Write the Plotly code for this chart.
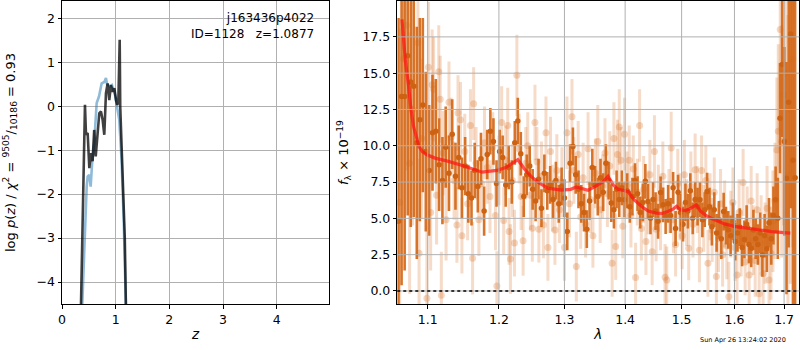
import plotly.graph_objects as go

# ---------------- left panel: p(z) ----------------
z_pz = [0.330, 0.354, 0.428, 0.447, 0.478, 0.509, 0.540, 0.570, 0.600, 0.628,
        0.695, 0.726, 0.757, 0.788, 0.819, 0.850, 0.881, 0.912, 0.944, 0.975,
        1.006, 1.030, 1.050, 1.075, 1.085, 1.110, 1.140, 1.170, 1.190, 1.215]
logp_pz = [-7.0, -4.5, 0.03, -0.65, -0.61, -1.41, -1.07, -1.25, -0.54, -1.14,
           -0.16, -0.12, -0.31, -0.65, 0.30, 0.52, 0.14, 0.48, 0.33, 0.41,
           0.14, 0.03, 0.10, 1.51, 0.00, -0.80, -1.60, -3.00, -4.50, -6.50]

z_chi = [0.340, 0.378, 0.460, 0.478, 0.509, 0.534, 0.565, 0.600, 0.646, 0.689,
         0.739, 0.790, 0.819, 0.840, 0.890, 0.930, 0.987, 1.030, 1.067, 1.110,
         1.150, 1.190, 1.220]
logp_chi = [-7.0, -4.5, -1.83, -1.60, -1.56, -1.83, -1.22, -0.84, 0.07, 0.22,
            0.52, 0.55, 0.64, 0.50, 0.45, 0.48, 0.26, -0.01, -0.31, -1.22,
            -2.60, -4.50, -6.50]

z_ticks = [0, 1, 2, 3, 4]
logp_ticks = [-4, -3, -2, -1, 0, 1, 2]

# ---------------- right panel: spectrum ----------------
dark_wave = [
    1.0615, 1.0655, 1.0695, 1.0735, 1.0775, 1.0815, 1.0855, 1.0895, 1.0935, 1.0975,
    1.1020, 1.1065, 1.1110, 1.1155, 1.1200, 1.1245, 1.1290, 1.1335, 1.1380, 1.1425, 1.1470,
    1.1515, 1.1560, 1.1605, 1.1650, 1.1695, 1.1740, 1.1785, 1.1830, 1.1875, 1.1920, 1.1965,
    1.2010, 1.2055, 1.2100, 1.2145, 1.2190, 1.2235, 1.2280, 1.2325, 1.2370, 1.2415, 1.2460,
    1.2505, 1.2550, 1.2595, 1.2640, 1.2685, 1.2730, 1.2775, 1.2820, 1.2865, 1.2910, 1.2955,
    1.3000, 1.3045, 1.3090, 1.3135, 1.3180, 1.3225, 1.3270, 1.3315, 1.3360, 1.3405, 1.3450,
    1.3495, 1.3540, 1.3585, 1.3630, 1.3675, 1.3720, 1.3765, 1.3810, 1.3855, 1.3900, 1.3945, 1.3990,
    1.4035, 1.4080, 1.4125, 1.4170, 1.4215, 1.4260, 1.4305, 1.4350, 1.4395, 1.4440, 1.4485,
    1.4530, 1.4575, 1.4620, 1.4665, 1.4710, 1.4755, 1.4800, 1.4845, 1.4890, 1.4935, 1.4980,
    1.5025, 1.5070, 1.5115, 1.5160, 1.5205, 1.5250, 1.5295, 1.5340, 1.5385, 1.5430, 1.5475,
    1.5520, 1.5565, 1.5610, 1.5655, 1.5700, 1.5745, 1.5790, 1.5835, 1.5880, 1.5925, 1.5970,
    1.6015, 1.6060, 1.6105, 1.6150, 1.6195, 1.6240, 1.6285, 1.6330, 1.6375, 1.6420, 1.6465,
    1.6510, 1.6555, 1.6600, 1.6645, 1.6690, 1.6735, 1.6780, 1.6825, 1.6870, 1.6915, 1.6960,
    1.7005, 1.7050, 1.7095, 1.7140, 1.7185, 1.7230]
dark_flux = [
    4.8, 13.4, 13.4, 16.2, 14.4, 14.1, 10.2, 11.8, 12.8, 9.6,
    8.3, 10.9, 11.0, 8.7, 7.6, 9.9, 8.1, 10.8, 7.9, 9.2, 7.1,
    8.6, 6.7, 6.4, 8.3, 7.2, 9.1, 5.5, 9.4, 11.0, 10.3, 7.4,
    9.6, 9.2, 7.3, 8.5, 7.5, 10.2, 11.7, 9.45, 6.5, 8.0, 8.6,
    7.0, 6.2, 7.7, 5.7, 8.1, 6.9, 7.3, 6.3, 7.6, 6.0, 7.2,
    6.4, 4.1, 8.8, 9.95, 8.0, 7.0, 6.0, 5.4, 4.25, 6.2, 8.5,
    7.3, 6.5, 7.8, 6.8, 8.8, 7.6, 6.05, 5.6, 7.0, 6.3, 7.1, 6.28,
    6.9, 5.8, 6.5, 7.6, 6.7, 5.4, 6.1, 7.55, 6.16, 5.0, 6.3,
    5.5, 4.8, 6.78, 5.93, 5.13, 6.0, 5.2, 7.1, 4.3, 6.8, 5.4,
    4.6, 6.1, 5.5, 6.9, 5.0, 6.3, 5.8, 6.28, 4.9, 5.6, 6.85,
    5.8, 4.43, 5.6, 4.0, 4.9, 3.6, 5.47, 4.5, 4.2, 3.8, 4.8,
    3.4, 4.0, 4.4, 3.0, 3.55, 4.6, 3.2, 2.94, 4.2, 3.6, 3.2,
    4.0, 2.48, 3.8, 2.9, 4.7, 3.6, 5.2, 6.28, 5.0, 11.9, 15.6,
    10.3, 7.77, 13.0, 17.7, 9.0, 7.8]
dark_err = [
    14, 13, 12, 11, 10, 9, 8, 7, 6, 5.5,
    4.5, 4.0, 3.6, 3.2, 3.0, 2.8, 2.6, 2.4, 2.3, 2.2, 2.1,
    2.0, 2.0, 1.9, 1.9, 1.8, 1.8, 1.7, 1.7, 1.6, 1.6, 1.6,
    1.5, 1.5, 1.5, 1.5, 1.5, 1.5, 1.6, 1.5, 1.4, 1.4, 1.4,
    1.4, 1.4, 1.4, 1.3, 1.3, 1.3, 1.3, 1.3, 1.3, 1.3, 1.3,
    1.3, 1.3, 1.3, 1.3, 1.3, 1.3, 1.3, 1.3, 1.3, 1.3, 1.3,
    1.3, 1.3, 1.3, 1.3, 1.3, 1.3, 1.3, 1.3, 1.3, 1.2, 1.2, 1.2,
    1.2, 1.1, 1.3, 1.2, 1.2, 1.1, 1.3, 1.2, 1.2, 1.1, 1.2,
    1.3, 1.2, 1.1, 1.2, 1.2, 1.3, 1.2, 1.1, 1.2, 1.2, 1.3,
    1.2, 1.3, 1.2, 1.2, 1.1, 1.2, 1.3, 1.2, 1.2, 1.2, 1.3,
    1.3, 1.3, 1.2, 1.3, 1.3, 1.4, 1.3, 1.3, 1.3, 1.4, 1.3,
    1.3, 1.3, 1.3, 1.3, 1.3, 1.3, 1.3, 1.3, 1.4, 1.4, 1.4,
    1.4, 1.5, 1.5, 1.6, 1.7, 1.8, 2.0, 2.3, 2.8, 3.8, 5.0,
    6.5, 8.0, 10, 12, 13, 14]

light_wave = [
    1.0630, 1.0680, 1.0720, 1.0760, 1.0800, 1.0870, 1.0885, 1.0920, 1.0990, 1.1010,
    1.1040, 1.1060, 1.1080, 1.1120, 1.1150, 1.1170, 1.1185, 1.1210, 1.1250, 1.1290,
    1.1320, 1.1360, 1.1400, 1.1415, 1.1450, 1.1470, 1.1510, 1.1550, 1.1590, 1.1620,
    1.1635, 1.1670, 1.1710, 1.1750, 1.1790, 1.1830, 1.1870, 1.1910, 1.1950, 1.1970,
    1.2000, 1.2040, 1.2070, 1.2100, 1.2130, 1.2150, 1.2170, 1.2200, 1.2230, 1.2266,
    1.2300, 1.2330, 1.2360, 1.2400, 1.2430, 1.2470, 1.2500, 1.2540, 1.2570, 1.2600,
    1.2640, 1.2670, 1.2710, 1.2740, 1.2780, 1.2810, 1.2850, 1.2880, 1.2920, 1.2960,
    1.3000, 1.3040, 1.3080, 1.3120, 1.3150, 1.3190, 1.3220, 1.3260, 1.3300, 1.3340,
    1.3380, 1.3420, 1.3460, 1.3500, 1.3540, 1.3580, 1.3620, 1.3660, 1.3700, 1.3740,
    1.3780, 1.3810, 1.3840, 1.3870, 1.3900, 1.3930, 1.3960, 1.3990,
    1.4030, 1.4070, 1.4100, 1.4140, 1.4180, 1.4210, 1.4250, 1.4280, 1.4320, 1.4360,
    1.4400, 1.4430, 1.4470, 1.4510, 1.4540, 1.4580, 1.4620, 1.4660, 1.4700, 1.4730,
    1.4770, 1.4810, 1.4850, 1.4890, 1.4930, 1.4970,
    1.5010, 1.5050, 1.5090, 1.5130, 1.5170, 1.5210, 1.5250, 1.5290, 1.5330, 1.5370,
    1.5410, 1.5450, 1.5490, 1.5530, 1.5570, 1.5610, 1.5650, 1.5690, 1.5730, 1.5770,
    1.5810, 1.5850, 1.5890, 1.5930, 1.5970,
    1.6010, 1.6050, 1.6090, 1.6130, 1.6170, 1.6210, 1.6250, 1.6290, 1.6330, 1.6370,
    1.6410, 1.6450, 1.6490, 1.6530, 1.6570, 1.6610, 1.6650, 1.6690, 1.6730, 1.6770,
    1.6810, 1.6850, 1.6880, 1.6920, 1.6950, 1.6990, 1.7030, 1.7080, 1.7130, 1.7180]
light_flux = [
    6.1, 16.0, 18.3, 8.8, 12.5, 17.1, 2.6, 10.5, -0.5, 15.4,
    5.4, 14.2, 13.9, 6.6, 15.1, 13.2, -0.3, 9.5, 4.9, 13.0,
    10.6, 7.6, 4.55, 12.25, 11.8, 3.8, 9.6, 6.0, 11.4, 2.25,
    12.9, 8.8, 4.9, 7.4, 10.2, 8.5, 6.5, 9.9, 5.2, 0.34,
    8.3, 11.6, 4.85, 9.0, 11.4, 4.1, 2.2, 7.6, 3.3, 14.85,
    9.8, 6.5, 3.45, 8.8, 10.0, 6.6, 4.32, 11.6, 8.9, 4.25,
    7.9, 4.55, 10.9, 3.0, 9.6, 6.4, 4.2, 8.3, 5.6, 7.5,
    3.0, 10.9, 6.0, 12.0, 8.3, 1.68, 9.4, 5.1, 7.8, 4.6,
    9.8, 6.3, 3.8, 8.1, 10.3, 5.6, 7.2, 9.5, 6.7, 8.6,
    1.9, 10.5, 3.06, 9.4, 11.3, 9.0, 4.45, 10.8,
    7.3, 9.0, 5.2, 8.4, 0.92, 6.8, 11.4, 4.3, 7.0, 3.4,
    6.1, 8.0, 2.7, 9.6, 4.25, 6.4, 5.0, 7.9, 0.94, 0.76,
    6.2, 9.85, 4.9, 3.2, 7.4, 5.8,
    3.8, 8.0, 5.4, 2.94, 7.2, 4.6, 8.35, 6.3, 2.8, 8.3,
    5.0, 7.6, 1.9, 5.8, 4.2, 6.8, 0.99, 3.6, 6.0, 2.5,
    5.3, 3.1, -0.4, 4.6, 6.1,
    3.0, 1.1, 5.4, 3.3, 7.47, 2.0, 4.8, 1.1, 6.2, 3.5,
    2.1, 5.6, -0.2, 4.0, 1.2, 3.3, 5.7, 0.76, 2.6, 4.8,
    6.2, 9.7, 11.0, 18.0, 10.3, 13.5, 15.0, 8.0, 12.5, 16.0]
light_err = [
    12, 11, 10, 9, 8, 7, 6.5, 5.5, 5, 4.5,
    4, 3.8, 3.6, 3.4, 3.2, 3.0, 3.0, 2.9, 2.8, 2.8,
    2.7, 2.7, 2.6, 2.6, 2.6, 2.6, 2.6, 2.5, 2.5, 2.5,
    2.5, 2.5, 2.5, 2.5, 2.5, 2.5, 2.5, 2.4, 2.4, 2.4,
    2.4, 2.5, 2.3, 2.4, 2.6, 2.3, 2.4, 2.5, 2.3, 2.8,
    2.4, 2.3, 2.4, 2.5, 2.3, 2.4, 2.3, 2.6, 2.4, 2.3,
    2.4, 2.3, 2.5, 2.3, 2.4, 2.3, 2.4, 2.5, 2.3, 2.4,
    2.3, 2.5, 2.3, 2.6, 2.3, 2.4, 2.3, 2.2, 2.4, 2.3,
    2.5, 2.3, 2.2, 2.4, 2.5, 2.3, 2.2, 2.4, 2.3, 2.4,
    2.3, 2.5, 2.3, 2.4, 2.6, 2.3, 2.2, 2.5,
    2.3, 2.4, 2.2, 2.3, 2.4, 2.3, 2.5, 2.2, 2.3, 2.3,
    2.2, 2.4, 2.3, 2.5, 2.2, 2.3, 2.2, 2.4, 2.3, 2.3,
    2.2, 2.5, 2.3, 2.2, 2.4, 2.3,
    2.3, 2.4, 2.3, 2.2, 2.4, 2.3, 2.5, 2.3, 2.2, 2.4,
    2.3, 2.4, 2.3, 2.3, 2.2, 2.4, 2.3, 2.3, 2.4, 2.2,
    2.3, 2.3, 2.4, 2.3, 2.4,
    2.3, 2.3, 2.3, 2.3, 2.3, 2.3, 2.4, 2.4, 2.4, 2.4,
    2.5, 2.5, 2.6, 2.6, 2.7, 2.8, 2.9, 3.0, 3.2, 3.5,
    4, 5, 6, 7, 8, 9, 10, 11, 12, 13]

model_wave = [1.0660, 1.0703, 1.0747, 1.0778, 1.0813, 1.0850, 1.0883, 1.0930, 1.0989, 1.1100,
              1.1270, 1.1500, 1.1755, 1.1970, 1.2100, 1.2200, 1.2280, 1.2380, 1.2480, 1.2600,
              1.2740, 1.2950, 1.3100, 1.3190, 1.3300, 1.3380, 1.3500, 1.3620, 1.3710, 1.3800,
              1.3880, 1.4050, 1.4150, 1.4280, 1.4400, 1.4540, 1.4650, 1.4750, 1.4850, 1.4906,
              1.4980, 1.5060, 1.5150, 1.5270, 1.5350, 1.5450, 1.5550, 1.5810, 1.6000, 1.6270,
              1.6500, 1.6740, 1.7130]
model_flux = [18.7, 15.9, 14.1, 12.5, 11.3, 10.5, 9.96, 9.6, 9.38, 9.15,
              8.94, 8.6, 8.18, 8.3, 8.5, 8.8, 9.04, 8.4, 7.89, 7.45,
              7.08, 6.94, 7.0, 7.17, 7.05, 6.94, 7.2, 7.5, 7.89, 7.3,
              7.0, 6.85, 6.3, 5.83, 5.5, 5.36, 5.35, 5.47, 5.65, 5.83,
              5.6, 5.54, 5.65, 5.93, 5.5, 5.2, 5.01, 4.62, 4.45, 4.32,
              4.2, 4.09, 3.98]

lam_ticks = [1.1, 1.2, 1.3, 1.4, 1.5, 1.6, 1.7]
lam_ticktext = ["1.1", "1.2", "1.3", "1.4", "1.5", "1.6", "1.7"]
flux_ticks = [0.0, 2.5, 5.0, 7.5, 10.0, 12.5, 15.0, 17.5]
flux_ticktext = ["0.0", "2.5", "5.0", "7.5", "10.0", "12.5", "15.0", "17.5"]

FONT = "DejaVu Sans"
TICKFONT = dict(family=FONT, size=12.5, color="black")
GRID = "#b0b0b0"

fig = go.Figure()

# left panel
fig.add_trace(go.Scatter(x=z_chi, y=logp_chi, mode="lines", xaxis="x", yaxis="y",
                         line=dict(color="rgba(31,119,180,0.5)", width=2.6), hoverinfo="skip"))
fig.add_trace(go.Scatter(x=z_pz, y=logp_pz, mode="lines", xaxis="x", yaxis="y",
                         line=dict(color="rgba(0,0,0,0.75)", width=2.6), hoverinfo="skip"))

# right panel
fig.add_trace(go.Scatter(x=light_wave, y=light_flux, mode="markers", xaxis="x2", yaxis="y2",
                         marker=dict(color="rgba(215,110,35,0.28)", size=7, line=dict(width=0)),
                         error_y=dict(type="data", array=light_err, visible=True, width=0,
                                      thickness=3, color="rgba(215,110,35,0.25)"),
                         hoverinfo="skip"))
fig.add_trace(go.Scatter(x=dark_wave, y=dark_flux, mode="markers", xaxis="x2", yaxis="y2",
                         marker=dict(color="rgb(205,98,18)", size=5.5, line=dict(width=0)),
                         error_y=dict(type="data", array=dark_err, visible=True, width=0,
                                      thickness=2.6, color="rgba(212,104,24,0.92)"),
                         hoverinfo="skip"))
fig.add_trace(go.Scatter(x=model_wave, y=model_flux, mode="lines", xaxis="x2", yaxis="y2",
                         line=dict(color="rgba(255,20,20,0.72)", width=3.2),
                         hoverinfo="skip"))

shapes = []
for v in lam_ticks:
    shapes.append(dict(type="line", xref="x2", yref="y2 domain", x0=v, x1=v, y0=0, y1=1,
                       line=dict(color=GRID, width=1), layer="above"))
for v in flux_ticks:
    shapes.append(dict(type="line", xref="x2 domain", yref="y2", x0=0, x1=1, y0=v, y1=v,
                       line=dict(color=GRID, width=1), layer="above"))
shapes.append(dict(type="line", xref="x2 domain", yref="y2", x0=0, x1=1, y0=0, y1=0,
                   line=dict(color="black", width=1.5, dash="dot"), layer="above"))

axis_common = dict(ticks="outside", ticklen=3.5, tickwidth=1, tickcolor="black",
                   showline=True, linecolor="black", linewidth=1, mirror=True,
                   zeroline=False, tickfont=TICKFONT, automargin=False)

fig.update_layout(
    width=800, height=350,
    margin=dict(l=0, r=0, t=0, b=0, pad=0),
    paper_bgcolor="white", plot_bgcolor="white",
    showlegend=False,
    font=dict(family=FONT, color="black"),
    xaxis=dict(domain=[0.0775, 0.4116], range=[0, 4.98], tickvals=z_ticks, anchor="y",
               showgrid=True, gridcolor=GRID, gridwidth=1,
               title=dict(text="<i>z</i>", standoff=4, font=dict(family=FONT, size=13.5)),
               **axis_common),
    yaxis=dict(domain=[0.1314, 0.9971], range=[-4.5, 2.393], tickvals=logp_ticks, anchor="x",
               showgrid=True, gridcolor=GRID, gridwidth=1,
               title=dict(text="log <i>p</i>(<i>z</i>) / <i>χ</i><sup>2</sup> = "
                               "<sup>9505</sup>/<sub>10186</sub> = 0.93",
                          standoff=18, font=dict(family=FONT, size=13)),
               **axis_common),
    xaxis2=dict(domain=[0.4966, 0.9991], type="log", range=[0.02527, 0.2385],
                tickvals=lam_ticks, ticktext=lam_ticktext, anchor="y2", showgrid=False,
                title=dict(text="<i>λ</i>", standoff=4, font=dict(family=FONT, size=13.5)),
                **axis_common),
    yaxis2=dict(domain=[0.1314, 0.9971], range=[-0.9, 19.97], tickvals=flux_ticks,
                ticktext=flux_ticktext, anchor="x2", showgrid=False,
                title=dict(text="<i>f</i><sub>λ</sub> × 10<sup>−19</sup>", standoff=10,
                           font=dict(family=FONT, size=13)),
                **axis_common),
    shapes=shapes,
    annotations=[
        dict(text="j163436p4022<br>ID=1128\u00a0\u00a0\u00a0z=1.0877", xref="x domain",
             yref="y domain", x=0.95, y=0.975, xanchor="right", yanchor="top",
             align="right", showarrow=False, font=dict(family=FONT, size=12, color="black")),
        dict(text="Sun Apr 26 13:24:02 2020", xref="paper", yref="paper", x=0.985, y=0.028,
             xanchor="right", yanchor="middle", showarrow=False,
             font=dict(family=FONT, size=6.5, color="black")),
    ],
)

fig.write_html("out.html", config={"displayModeBar": False},
               post_script="document.body.style.margin='0';document.body.style.padding='0';")
